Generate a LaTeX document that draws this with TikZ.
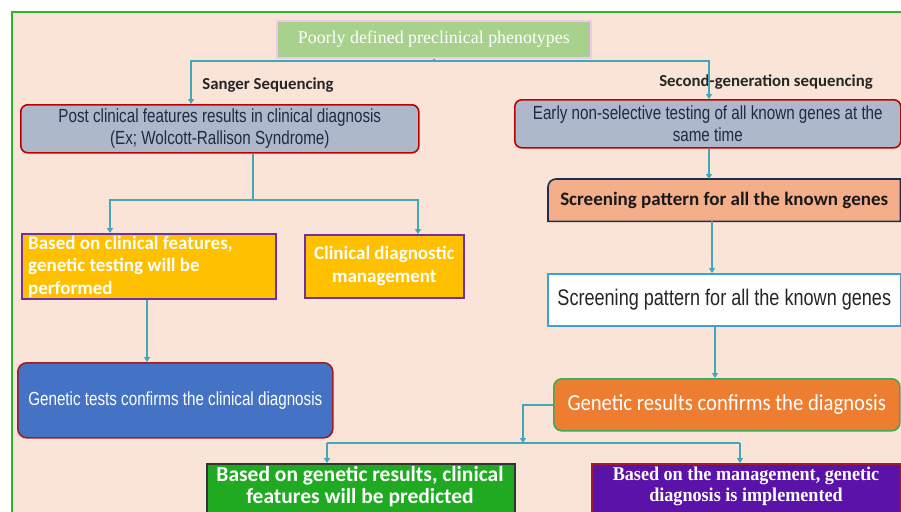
\documentclass[tikz,border=0pt]{standalone}
\usepackage{fontspec}
\setmainfont{Liberation Sans}
\newfontfamily\narf[FakeStretch=0.8]{Liberation Sans}
\newfontfamily\calib{Carlito}
\newfontfamily\calibn[FakeStretch=0.9]{Carlito}
\newfontfamily\serf{Liberation Serif}
\newfontfamily\serfn[FakeStretch=0.93]{Liberation Serif}
\usetikzlibrary{arrows.meta,calc}
\definecolor{peach}{HTML}{F9E4D7}
\definecolor{bordgreen}{HTML}{2DB52D}
\definecolor{titlegreen}{HTML}{A9D18E}
\definecolor{pinkb}{HTML}{F2C8EE}
\definecolor{grayblue}{HTML}{ADB9CA}
\definecolor{redb}{HTML}{C00000}
\definecolor{navytxt}{HTML}{1F2A44}
\definecolor{gold}{HTML}{FFC000}
\definecolor{purpb}{HTML}{7030A0}
\definecolor{bluef}{HTML}{4472C4}
\definecolor{darkred}{HTML}{A01B2B}
\definecolor{salmon}{HTML}{F4AE8A}
\definecolor{navyb}{HTML}{1F2D4F}
\definecolor{lblue}{HTML}{3CA0DA}
\definecolor{orangef}{HTML}{ED7D31}
\definecolor{greenb}{HTML}{3DAA5A}
\definecolor{greenf}{HTML}{1FAA22}
\definecolor{purplef}{HTML}{5B12A8}
\definecolor{teal}{HTML}{3FA8BD}
\tikzset{
  box/.style={draw, line width=1.6pt, inner sep=0pt, anchor=north west, align=center},
  conn/.style={draw=teal, line width=1.6pt},
  arr/.style={conn, -{Triangle[width=6pt,length=5pt]}},
  lbl/.style={font=\calib\bfseries\fontsize{16.8}{19}\selectfont, text=black!85, inner sep=0pt}
}
\begin{document}
\begin{tikzpicture}[x=1pt,y=-1pt]
\useasboundingbox (0,0) rectangle (901,511);
\fill[white] (0,0) rectangle (901,511);
\path[fill=peach, draw=bordgreen, line width=1.6pt] (12,515) -- (12,12) -- (905,12) -- (905,515);
% title
\node[box, fill=titlegreen, draw=pinkb, minimum width=314pt, minimum height=37pt, text=white,
  font=\serf\fontsize{17.9}{21}\selectfont] (T) at (276,20) {Poorly defined preclinical phenotypes};
\node[lbl] (L1) at (268,85) {Sanger Sequencing};
\node[lbl] (L2) at (766,82) {Second-generation sequencing};
% A and B
\node[box, fill=grayblue, draw=redb, rounded corners=7pt, minimum width=398pt, minimum height=48pt,
  text=navytxt, font=\narf\fontsize{19}{22.5}\selectfont] (A) at (20,104)
  {Post clinical features results in clinical diagnosis\\(Ex; Wolcott-Rallison Syndrome)};
\node[box, fill=grayblue, draw=redb, rounded corners=7pt, minimum width=386pt, minimum height=48pt,
  text=navytxt, font=\narf\fontsize{19}{22.5}\selectfont] (B) at (514,99)
  {Early non-selective testing of all known genes at the\\same time};
% C and D
\node[box, fill=gold, draw=purpb, minimum width=254pt, minimum height=65pt] (C) at (21,233) {};
\node[anchor=north west, inner sep=0pt, align=left, text=white, font=\calib\bfseries\fontsize{19}{22.5}\selectfont]
  (Ct) at (28,235.5) {Based on clinical features,\\genetic testing will be\\performed};
\node[box, fill=gold, draw=purpb, minimum width=159pt, minimum height=63pt, text=white,
  font=\calib\bfseries\fontsize{19}{23}\selectfont] (D) at (304,234) {Clinical diagnostic\\management};
% E
\node[box, fill=bluef, draw=darkred, rounded corners=9pt, minimum width=315pt, minimum height=75pt,
  text=white, font=\narf\fontsize{19}{22}\selectfont] (E) at (17,362) {Genetic tests confirms the clinical diagnosis};
% F
\node[inner sep=0pt, anchor=north west, minimum width=352pt, minimum height=42pt] (F) at (548,179) {};
\path[fill=salmon, draw=navyb, line width=1.6pt] (F.south west) -- ($(F.north west)+(0,8)$)
  arc[start angle=180, end angle=270, radius=8] -- (F.north east) -- (F.south east) -- cycle;
\node[font=\calib\bfseries\fontsize{19}{22}\selectfont, text=black!90, inner sep=0pt] (Ft) at (F.center) {Screening pattern for all the known genes};
% G
\node[box, fill=white, draw=lblue, minimum width=353pt, minimum height=52pt, text=black!85,
  font=\narf\fontsize{22.6}{25}\selectfont] (G) at (547,273) {Screening pattern for all the known genes};
% H
\node[box, fill=orangef, draw=greenb, rounded corners=8pt, minimum width=346pt, minimum height=52pt,
  text=white, font=\calibn\fontsize{23}{26}\selectfont] (H) at (553,378) {Genetic results confirms the diagnosis};
% I and J
\node[box, fill=greenf, draw=black!80, minimum width=308pt, minimum height=60pt] (I) at (206,463) {};
\node[anchor=north, inner sep=0pt, align=center, text=white, font=\calib\bfseries\fontsize{21.5}{22}\selectfont]
  (It) at (360,466) {Based on genetic results, clinical\\features will be predicted};
\node[box, fill=purplef, draw=darkred, minimum width=309pt, minimum height=60pt] (J) at (591,463) {};
\node[anchor=north, inner sep=0pt, align=center, text=white, font=\serfn\bfseries\fontsize{19.5}{21}\selectfont]
  (Jt) at (746,467) {Based on the management, genetic\\diagnosis is implemented};
% junction coordinates
\coordinate (xa) at (191,0);
\coordinate (xb) at (709,0);
\coordinate (y1) at (0,61);
\coordinate (y2) at (0,200);
\coordinate (xc) at (110,0);
\coordinate (xd) at (418,0);
\coordinate (xab) at (253,0);
\coordinate (xce) at (147,0);
\coordinate (xf) at (712,0);
\coordinate (xg) at (715,0);
\coordinate (xh) at (523,0);
\coordinate (y3) at (0,443);
\coordinate (xi) at (327,0);
\coordinate (xj) at (740,0);
% connectors
\draw[conn] (T.south) -- (T.south |- y1);
\draw[arr] (T.south |- y1) -- (xa |- y1) -- (xa |- A.north);
\draw[arr] (T.south |- y1) -- (xb |- y1) -- (xb |- B.north);
\draw[conn] (xab |- A.south) -- (xab |- y2);
\draw[arr] (xab |- y2) -- (xc |- y2) -- (xc |- C.north);
\draw[arr] (xab |- y2) -- (xd |- y2) -- (xd |- D.north);
\draw[arr] (xce |- C.south) -- (xce |- E.north);
\draw[arr] (xb |- B.south) -- (xb |- F.north);
\draw[arr] (xf |- F.south) -- (xf |- G.north);
\draw[arr] (xg |- G.south) -- (xg |- H.north);
\draw[arr] (H.west) -- (xh |- H.west) -- (xh |- y3);
\draw[conn] (xi |- y3) -- (xj |- y3);
\draw[arr] (xi |- y3) -- (xi |- I.north);
\draw[arr] (xj |- y3) -- (xj |- J.north);
\end{tikzpicture}
\end{document}
